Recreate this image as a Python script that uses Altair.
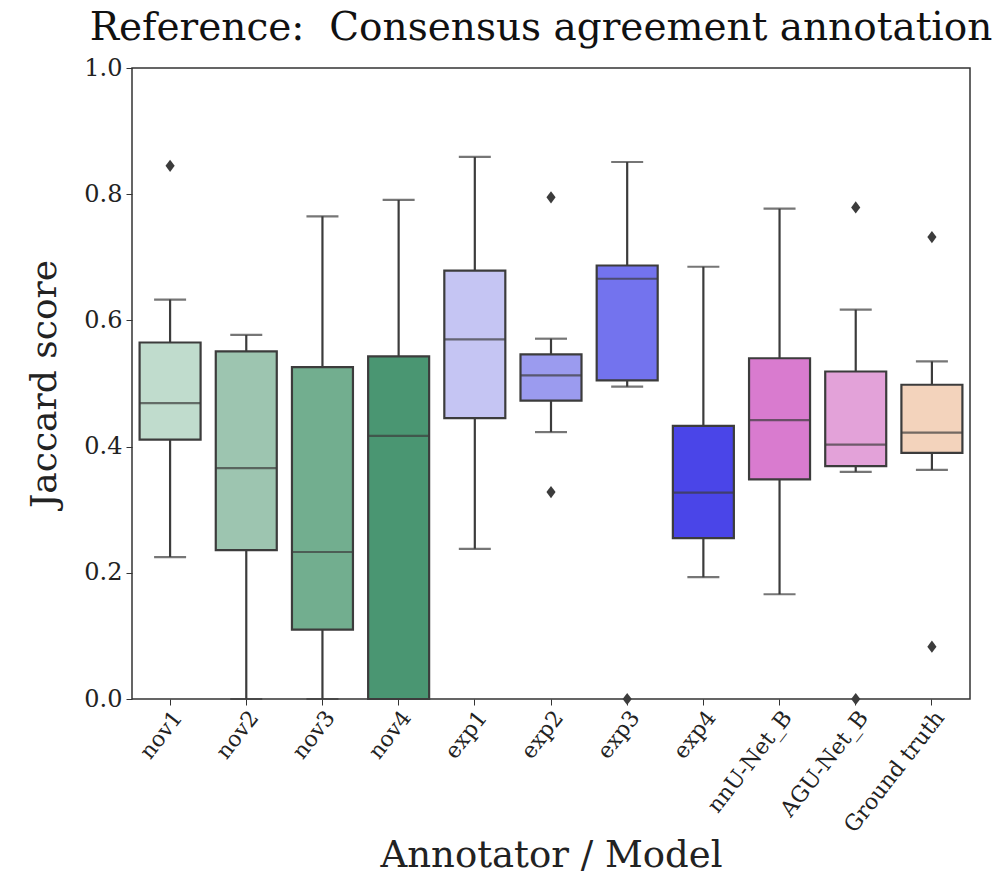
import altair as alt
import pandas as pd

categories = ["nov1", "nov2", "nov3", "nov4", "exp1", "exp2", "exp3", "exp4",
              "nnU-Net_B", "AGU-Net_B", "Ground truth"]
lower = [0.225, 0.0, 0.0, 0.0, 0.238, 0.423, 0.495, 0.193, 0.166, 0.360, 0.363]
q1 = [0.411, 0.236, 0.110, 0.0, 0.445, 0.473, 0.505, 0.255, 0.348, 0.369, 0.390]
median = [0.469, 0.366, 0.233, 0.417, 0.570, 0.513, 0.666, 0.327, 0.442, 0.403, 0.422]
q3 = [0.565, 0.551, 0.526, 0.543, 0.679, 0.546, 0.687, 0.433, 0.540, 0.519, 0.498]
upper = [0.633, 0.577, 0.765, 0.791, 0.859, 0.571, 0.851, 0.685, 0.777, 0.617, 0.535]
colors = ["#c0dccd", "#9dc5b0", "#72ae8f", "#4a9672", "#c5c5f3", "#9b9bef",
          "#7373ee", "#4a45e8", "#d97bcf", "#e3a2d9", "#f3d3bc"]

outlier_cat = ["nov1", "exp2", "exp2", "exp3", "AGU-Net_B", "AGU-Net_B",
               "Ground truth", "Ground truth"]
outlier_val = [0.845, 0.795, 0.328, 0.0, 0.779, 0.0, 0.732, 0.083]

stats = pd.DataFrame({"cat": categories, "lower": lower, "q1": q1,
                      "median": median, "q3": q3, "upper": upper})
outs = pd.DataFrame({"cat": outlier_cat, "val": outlier_val})

FONT = "DejaVu Serif"
EDGE = "#3c3c3c"

xenc = alt.X("cat:N", sort=categories, title="Annotator / Model",
             scale=alt.Scale(domain=categories, paddingInner=0, paddingOuter=0),
             axis=alt.Axis(labelAngle=-52, labelAlign="right", labelBaseline="top",
                           labelFont=FONT, labelFontSize=22,
                           labelColor="#222", titleFont=FONT, titleFontSize=37,
                           titleFontWeight="normal", titleColor="#222",
                           titlePadding=2, tickColor="#333", tickSize=6,
                           domain=False, labelPadding=2))
yscale = alt.Scale(domain=[0, 1], nice=False, zero=True)
yaxis = alt.Axis(values=[0, 0.2, 0.4, 0.6, 0.8, 1.0], format=".1f", grid=False,
                 labelFont=FONT, labelFontSize=24, labelColor="#222",
                 titleFont=FONT, titleFontSize=36, titleFontWeight="normal",
                 titleColor="#222", titlePadding=20, tickColor="#333",
                 tickSize=6, domain=False, labelPadding=4)

base = alt.Chart(stats)

whisker = base.mark_rule(color=EDGE, strokeWidth=2.2).encode(
    x=xenc,
    y=alt.Y("lower:Q", scale=yscale, axis=yaxis, title="Jaccard score"),
    y2="upper:Q",
)
cap_lo = base.mark_tick(color=EDGE, size=32, thickness=2.2).encode(
    x=alt.X("cat:N", sort=categories), y=alt.Y("lower:Q"))
cap_hi = base.mark_tick(color=EDGE, size=32, thickness=2.2).encode(
    x=alt.X("cat:N", sort=categories), y=alt.Y("upper:Q"))
box = base.mark_bar(size=61, stroke=EDGE, strokeWidth=2.2).encode(
    x=alt.X("cat:N", sort=categories),
    y=alt.Y("q1:Q"),
    y2="q3:Q",
    color=alt.Color("cat:N", scale=alt.Scale(domain=categories, range=colors),
                    legend=None),
)
med = base.mark_tick(color=EDGE, size=61, thickness=2.2).encode(
    x=alt.X("cat:N", sort=categories), y=alt.Y("median:Q"))
points = alt.Chart(outs).mark_point(shape="M0,-1L0.75,0L0,1L-0.75,0Z", filled=True,
                                    size=150, color=EDGE, opacity=1).encode(
    x=alt.X("cat:N", sort=categories), y=alt.Y("val:Q"))

chart = alt.layer(whisker, cap_lo, cap_hi, box, med, points).properties(
    width=838, height=631,
    background="white",
    title=alt.TitleParams("Reference:\u00a0\u00a0Consensus agreement annotation",
                          font=FONT, fontSize=39, fontWeight="normal",
                          color="#111", anchor="middle", offset=8, dx=-10),
    autosize=alt.AutoSizeParams(type="none"),
    padding={"left": 132, "top": 68, "right": 27, "bottom": 176},
).configure_view(stroke="#333333", strokeWidth=1.5)

chart.save("out.html", embed_options={"renderer": "svg", "actions": False})
